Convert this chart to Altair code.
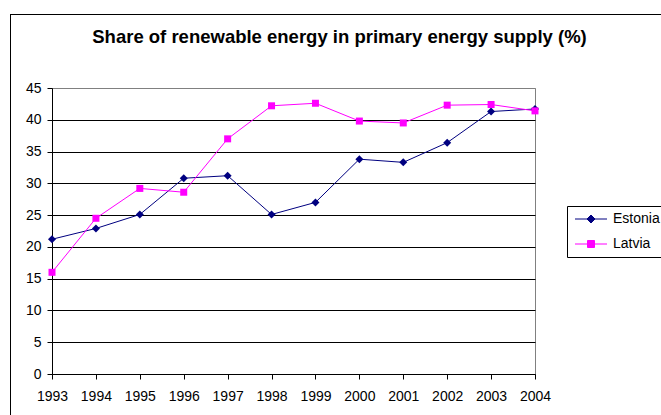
import altair as alt
import pandas as pd

years = list(range(1993, 2005))
estonia = [21.2, 22.9, 25.1, 30.8, 31.2, 25.1, 27.0, 33.8, 33.3, 36.4, 41.3, 41.7]
latvia = [16.0, 24.5, 29.2, 28.6, 37.0, 42.2, 42.6, 39.8, 39.5, 42.3, 42.4, 41.4]
series = ["Estonia", "Latvia"]
colors = ["#000080", "#FF00FF"]
shapes = ["diamond", "square"]
sizes = [64, 49]
y_ticks = list(range(0, 50, 5))
title_text = "Share of renewable energy in primary energy supply (%)"

df = pd.DataFrame({
    "Year": years * 2,
    "Value": estonia + latvia,
    "Country": [series[0]] * len(years) + [series[1]] * len(years),
})

FONT = "Liberation Sans"
PLOT_W, PLOT_H = 483, 286
LEFT, TOP = 52, 88
TOTAL_W, TOTAL_H = 661, 415

x_enc = alt.X(
    "Year:Q",
    scale=alt.Scale(domain=[years[0], years[-1]], nice=False, zero=False),
    axis=alt.Axis(values=years, format="d", title=None, grid=False,
                  labelPadding=10, labelOverlap=False, labelFlush=False),
)
y_enc = alt.Y(
    "Value:Q",
    scale=alt.Scale(domain=[0, 45], nice=False),
    axis=alt.Axis(
        values=y_ticks, title=None, grid=True, labelPadding=6, labelOverlap=False,
        gridColor={"condition": {"test": "datum.value === 45", "value": "#808080"}, "value": "#000000"},
    ),
)

# legend symbols: a line with the series marker in its middle
legend_paths = [
    "M-3.2,0H3.2M0,-0.8L0.8,0L0,0.8L-0.8,0Z",
    "M-3.2,0H3.2M-0.7,-0.7H0.7V0.7H-0.7Z",
]

legend = alt.Legend(
    title=None, orient="none", legendX=515, legendY=118,
    strokeColor="#000000", fillColor="#ffffff", padding=6,
    labelFont=FONT, labelFontSize=14, labelColor="#000000",
    symbolSize=100, symbolOffset=11, labelOffset=15, rowPadding=11,
    symbolStrokeWidth=1, symbolOpacity=1,
)

series_layers = []
for name, col, shp, sz in zip(series, colors, shapes, sizes):
    base = alt.Chart(df).transform_filter(alt.datum.Country == name)
    series_layers.append(
        base.mark_line(strokeWidth=1, color=col).encode(x=x_enc, y=y_enc)
    )
    series_layers.append(
        base.mark_point(filled=True, opacity=1, strokeWidth=0, shape=shp, size=sz, color=col)
        .encode(x=x_enc, y=y_enc)
    )

legend_layer = alt.Chart(df).mark_point(filled=True, size=0, strokeWidth=1).encode(
    x=x_enc, y=y_enc,
    fill=alt.Fill("Country:N", scale=alt.Scale(domain=series, range=colors), legend=legend),
    stroke=alt.Stroke("Country:N", scale=alt.Scale(domain=series, range=colors), legend=legend),
    shape=alt.Shape("Country:N", scale=alt.Scale(domain=series, range=legend_paths), legend=legend),
)

frame_df = pd.DataFrame({"k": [0]})
frame_left = alt.Chart(frame_df).mark_rule(color="#000000", strokeWidth=1).encode(
    x=alt.value(10 - LEFT + 0.5), y=alt.value(14 - TOP), y2=alt.value(TOTAL_H - TOP + 5)
)
frame_top = alt.Chart(frame_df).mark_rule(color="#000000", strokeWidth=1).encode(
    x=alt.value(10 - LEFT), x2=alt.value(TOTAL_W - LEFT + 5), y=alt.value(14 - TOP + 0.5)
)

chart = alt.layer(frame_left, frame_top, *series_layers, legend_layer).properties(
    width=PLOT_W, height=PLOT_H,
    autosize=alt.AutoSizeParams(type="none"),
    padding={"left": LEFT, "top": TOP, "right": TOTAL_W - LEFT - PLOT_W, "bottom": TOTAL_H - TOP - PLOT_H},
    title=alt.TitleParams(
        title_text, font=FONT, fontSize=18.5, fontWeight="bold", color="#000000",
        anchor="middle", dx=46, dy=48, offset=0, baseline="alphabetic",
    ),
).configure_view(
    stroke="#808080", strokeWidth=1
).configure_axis(
    labelFont=FONT, labelFontSize=14, labelColor="#000000",
    tickColor="#000000", tickSize=5, tickWidth=1,
    domainColor="#000000", domainWidth=1, gridWidth=1,
)

chart.save("out.html", embed_options={"renderer": "svg", "actions": False})
